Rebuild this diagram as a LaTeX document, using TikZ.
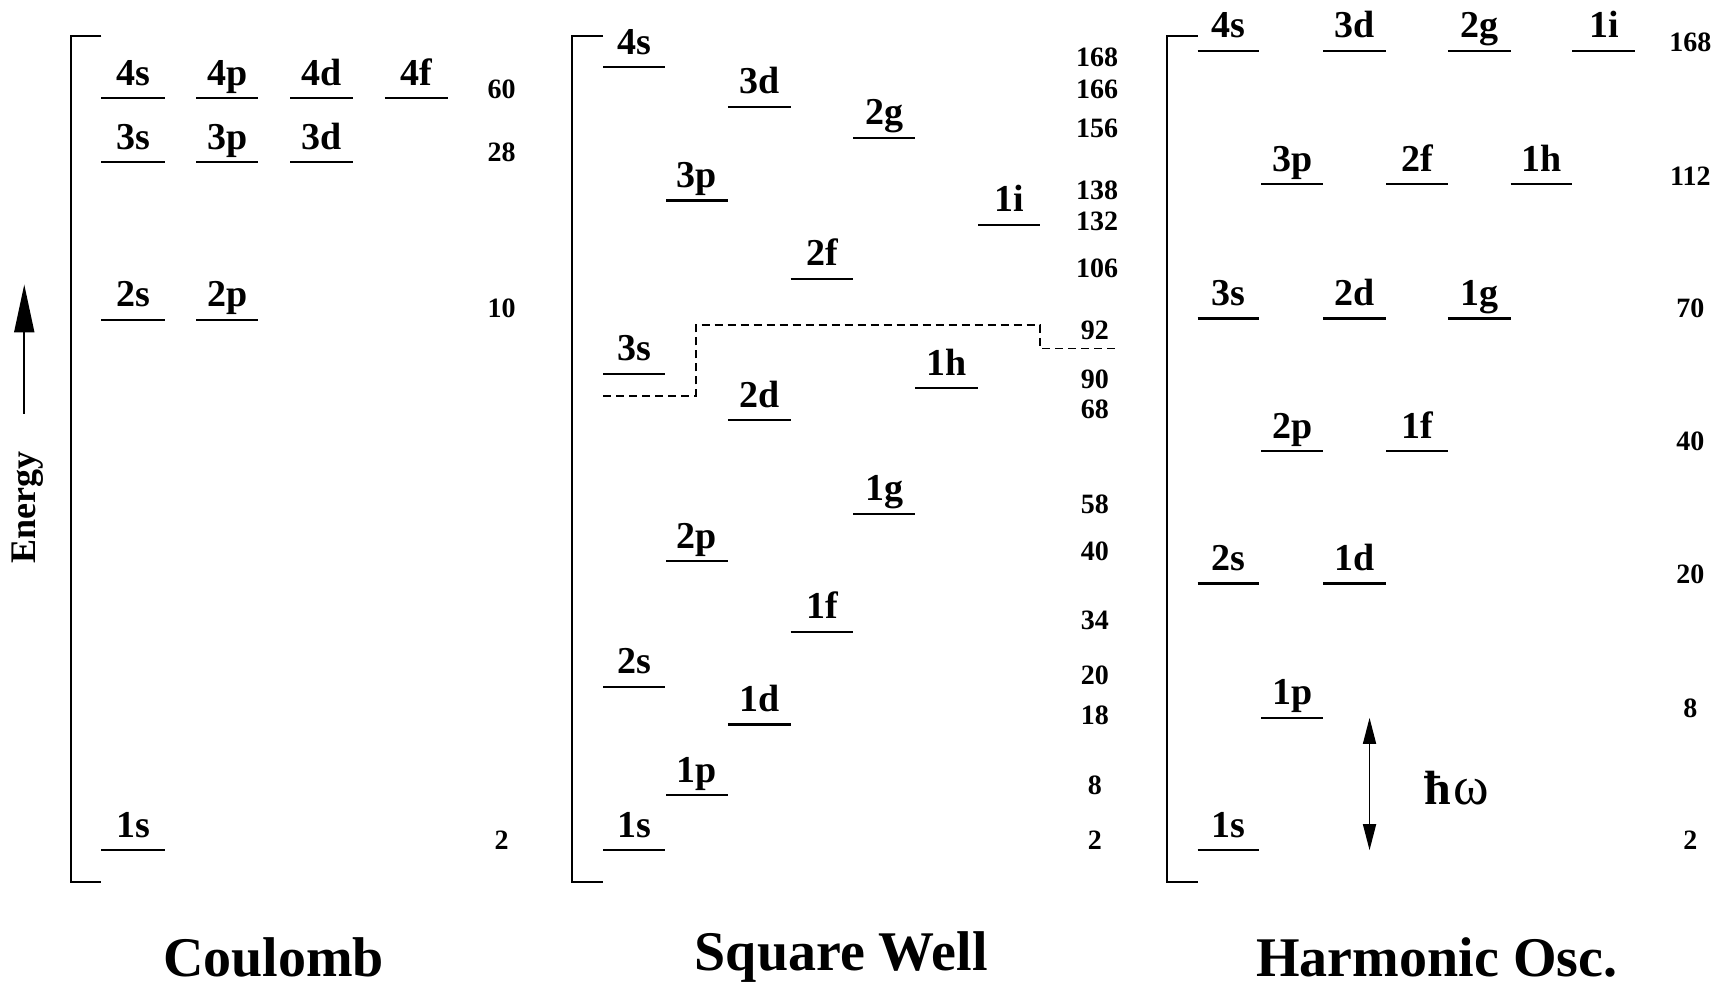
\documentclass[tikz,border=0pt]{standalone}
\usepackage{fontspec}
\setmainfont{Liberation Serif}
\usetikzlibrary{arrows.meta}
\tikzset{
  levline/.style={line width=2.4pt},
  lbl/.style={font=\fontsize{38}{40}\selectfont\bfseries, anchor=base, yshift=13pt, inner sep=0pt},
  num/.style={font=\fontsize{28}{30}\selectfont\bfseries, inner sep=0pt},
  ttl/.style={font=\fontsize{56}{60}\selectfont\bfseries, inner sep=0pt},
  brk/.style={line width=2pt},
  dline/.style={line width=1.8pt, dash pattern=on 8pt off 5pt},
}
\newcommand{\lvl}[5]{\draw[levline] (#2,#4) -- (#3,#4) node[midway, lbl] (#1) {#5};}
\begin{document}
\begin{tikzpicture}[x=1.1027pt, y=-1.1027pt]
\useasboundingbox (0,0) rectangle (1568,895);

% ---------------- Coulomb ----------------
\draw[brk] (92,33) -- (64,33) -- (64,800) -- (92,800);
\lvl{c4s}{92}{150}{89}{4s}
\lvl{c4p}{178}{234}{89}{4p}
\lvl{c4d}{263}{320}{89}{4d}
\lvl{c4f}{349}{406}{89}{4f}
\lvl{c3s}{92}{150}{147}{3s}
\lvl{c3p}{178}{234}{147}{3p}
\lvl{c3d}{263}{320}{147}{3d}
\lvl{c2s}{92}{150}{290}{2s}
\lvl{c2p}{178}{234}{290}{2p}
\lvl{c1s}{92}{150}{771}{1s}
\node[num] (cn60) at (455,81) {60};
\node[num] (cn28) at (455,138) {28};
\node[num] (cn10) at (455,280) {10};
\node[num] (cn2) at (455,762) {2};
\coordinate (ebot) at (22,375);
\coordinate (etop) at (22,258);
\draw[line width=2pt, -{Triangle[length=48pt,width=20pt]}] (ebot) -- (etop);
\node[rotate=90, font=\fontsize{36}{38}\selectfont\bfseries, inner sep=0pt] (energy) at (25,460) {Energy};
\node[ttl] (tcoul) at (248,868) {Coulomb};

% ---------------- Square Well ----------------
\draw[brk] (547,33) -- (519,33) -- (519,800) -- (547,800);
\lvl{s4s}{547}{603}{61}{4s}
\lvl{s3d}{660}{717}{97}{3d}
\lvl{s2g}{774}{830}{125}{2g}
\lvl{s3p}{604}{660}{182}{3p}
\lvl{s1i}{887}{943}{204}{1i}
\lvl{s2f}{717}{774}{253}{2f}
\lvl{s3s}{547}{603}{339}{3s}
\lvl{s1h}{830}{887}{352}{1h}
\lvl{s2d}{660}{717}{381}{2d}
\lvl{s1g}{774}{830}{466}{1g}
\lvl{s2p}{604}{660}{509}{2p}
\lvl{s1f}{717}{774}{573}{1f}
\lvl{s2s}{547}{603}{623}{2s}
\lvl{s1d}{660}{717}{657}{1d}
\lvl{s1p}{604}{660}{721}{1p}
\lvl{s1s}{547}{603}{771}{1s}
\draw[dline] (547,359) -- (631,359) -- (631,295) -- (943,295) -- (943,316) -- (1015,316);
\node[num] (sn168) at (995,52) {168};
\node[num] (sn166) at (995,81) {166};
\node[num] (sn156) at (995,116) {156};
\node[num] (sn138) at (995,173) {138};
\node[num] (sn132) at (995,201) {132};
\node[num] (sn106) at (995,243) {106};
\node[num] (sn92) at (993,300) {92};
\node[num] (sn90) at (993,344) {90};
\node[num] (sn68) at (993,371) {68};
\node[num] (sn58) at (993,457) {58};
\node[num] (sn40) at (993,500) {40};
\node[num] (sn34) at (993,563) {34};
\node[num] (sn20) at (993,612) {20};
\node[num] (sn18) at (993,649) {18};
\node[num] (sn8) at (993,712) {8};
\node[num] (sn2) at (993,762) {2};
\node[ttl] (tsq) at (763,868) {Square Well};

% ---------------- Harmonic Oscillator ----------------
\draw[brk] (1086,33) -- (1058,33) -- (1058,800) -- (1086,800);
\lvl{h4s}{1086}{1142}{46}{4s}
\lvl{h3d}{1200}{1257}{46}{3d}
\lvl{h2g}{1313}{1370}{46}{2g}
\lvl{h1i}{1426}{1483}{46}{1i}
\lvl{h3p}{1144}{1200}{167}{3p}
\lvl{h2f}{1257}{1313}{167}{2f}
\lvl{h1h}{1370}{1426}{167}{1h}
\lvl{h3s}{1086}{1142}{289}{3s}
\lvl{h2d}{1200}{1257}{289}{2d}
\lvl{h1g}{1313}{1370}{289}{1g}
\lvl{h2p}{1144}{1200}{409}{2p}
\lvl{h1f}{1257}{1313}{409}{1f}
\lvl{h2s}{1086}{1142}{529}{2s}
\lvl{h1d}{1200}{1257}{529}{1d}
\lvl{h1p}{1144}{1200}{651}{1p}
\lvl{h1s}{1086}{1142}{771}{1s}
\node[num] (hn168) at (1533,38) {168};
\node[num] (hn112) at (1533,160) {112};
\node[num] (hn70) at (1533,280) {70};
\node[num] (hn40) at (1533,400) {40};
\node[num] (hn20) at (1533,521) {20};
\node[num] (hn8) at (1533,642) {8};
\node[num] (hn2) at (1533,762) {2};
\coordinate (hwtop) at (1242,651);
\coordinate (hwbot) at (1242,771);
\draw[line width=1.6pt, {Triangle[length=26pt,width=13pt]}-{Triangle[length=26pt,width=13pt]}] (hwtop) -- (hwbot);
\node[inner sep=0pt] (hw) at (1321,715) {{\fontsize{48}{50}\selectfont\bfseries ħ}\,{\fontsize{54}{56}\selectfont ω}};
\node[ttl] (tho) at (1303,868) {Harmonic Osc.};
\end{tikzpicture}
\end{document}
